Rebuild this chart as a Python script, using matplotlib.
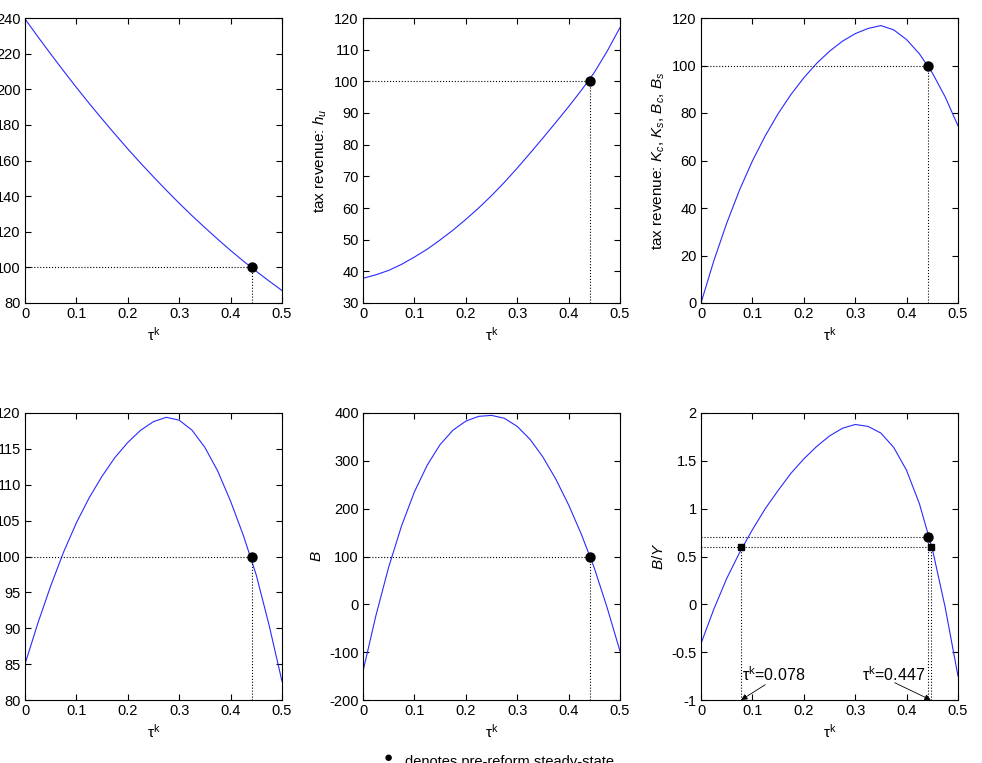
import matplotlib
matplotlib.use('Agg')
from matplotlib import pyplot as plt

plt.rcParams['font.family'] = ['Liberation Sans', 'DejaVu Sans']
plt.rcParams['mathtext.fontset'] = 'custom'
plt.rcParams['mathtext.rm'] = 'Liberation Sans'
plt.rcParams['mathtext.it'] = 'Liberation Sans:italic'
plt.rcParams['axes.unicode_minus'] = False

# capital tax rate grid
tau = [0.0, 0.025, 0.05, 0.075, 0.1, 0.125, 0.15, 0.175, 0.2, 0.225, 0.25,
       0.275, 0.3, 0.325, 0.35, 0.375, 0.4, 0.425, 0.45, 0.475, 0.5]

# panel values
top_left = [239.5, 229.5, 219.8, 210.3, 201.0, 192.0, 183.3, 174.8, 166.5, 158.5, 150.8,
            143.3, 136.0, 129.0, 122.3, 115.8, 109.5, 103.5, 97.8, 92.3, 87.0]
h_u = [37.8, 38.9, 40.3, 42.2, 44.5, 47.0, 49.9, 53.0, 56.4, 60.0, 63.9,
       68.1, 72.6, 77.3, 82.1, 87.0, 92.0, 97.2, 102.8, 109.5, 117.0]
k_b = [0.0, 17.8, 33.6, 47.6, 59.8, 70.4, 79.7, 87.8, 94.8, 100.9, 106.0,
       110.2, 113.4, 115.6, 116.8, 115.0, 110.9, 104.9, 96.9, 86.8, 74.6]
bottom_left = [85.0, 90.7, 95.9, 100.6, 104.7, 108.2, 111.2, 113.8, 115.9, 117.6, 118.8,
               119.4, 119.0, 117.6, 115.2, 111.9, 107.7, 102.9, 97.4, 90.4, 82.6]
B = [-140, -24, 78, 164, 235, 291, 334, 364, 383, 393, 395,
     389, 372, 345, 308, 262, 208, 146, 76, -7, -98]
B_Y = [-0.41, -0.05, 0.27, 0.54, 0.78, 1.00, 1.19, 1.37, 1.52, 1.65, 1.76,
       1.84, 1.88, 1.86, 1.79, 1.64, 1.40, 1.05, 0.58, -0.03, -0.75]

tau0 = 0.441          # pre-reform steady state
base = [100, 100, 100, 100, 100, 0.70]
by_target = 0.60
tau_lo, tau_hi = 0.078, 0.447

series = [top_left, h_u, k_b, bottom_left, B, B_Y]
ylims = [(80, 240), (30, 120), (0, 120), (80, 120), (-200, 400), (-1, 2)]
yticks = [range(80, 241, 20), range(30, 121, 10), range(0, 121, 20),
          range(80, 121, 5), range(-200, 401, 100), [-1, -0.5, 0, 0.5, 1, 1.5, 2]]
ylabels = ['', r'tax revenue: $h_u$',
           r'tax revenue: $K_c$, $K_s$, $B_c$, $B_s$', '', r'$B$', r'$B/Y$']
xlab = r'$\mathrm{\tau}^{\mathrm{k}}$'

fig = plt.figure(figsize=(9.82, 7.63), dpi=100)
W, H = 982.0, 763.0
lefts = [25, 363, 701]
rows = [(18, 303), (413, 700)]

for i in range(6):
    r, c = divmod(i, 3)
    top, bot = rows[r]
    ax = fig.add_axes([lefts[c] / W, 1 - bot / H, 257 / W, (bot - top) / H])
    ax.plot(tau, series[i], color='#2a2aff', lw=0.8)
    lo, hi = ylims[i]
    ax.set_xlim(0, 0.5)
    ax.set_ylim(lo, hi)
    ax.set_xticks([0, 0.1, 0.2, 0.3, 0.4, 0.5])
    ax.set_xticklabels(['0', '0.1', '0.2', '0.3', '0.4', '0.5'])
    ax.set_yticks(list(yticks[i]))
    if i == 5:
        ax.set_yticklabels(['-1', '-0.5', '0', '0.5', '1', '1.5', '2'])
    ax.tick_params(direction='in', top=True, right=True, length=4, width=0.8,
                   labelsize=10.5, pad=3)
    for s in ax.spines.values():
        s.set_linewidth(0.8)
    ax.set_xlabel(xlab, fontsize=11, labelpad=3)
    if ylabels[i]:
        ax.set_ylabel(ylabels[i], fontsize=11, labelpad=4)

    y0 = base[i]
    ax.plot([0, tau0], [y0, y0], 'k:', lw=0.8)
    ax.plot([tau0, tau0], [lo, y0], 'k:', lw=0.8)
    ax.plot(tau0, y0, 'ko', ms=6.5)

    if i == 5:
        ax.plot([0, tau_hi], [by_target, by_target], 'k:', lw=0.8)
        ax.plot([tau_lo, tau_lo], [lo, by_target], 'k:', lw=0.8)
        ax.plot([tau_hi, tau_hi], [lo, by_target], 'k:', lw=0.8)
        ax.plot([tau_lo, tau_hi], [by_target, by_target], 'ks', ms=5)
        ax.text(0.080, -0.74, xlab + '=%.3f' % tau_lo, fontsize=11.5, va='center', ha='left')
        ax.text(0.313, -0.74, xlab + '=%.3f' % tau_hi, fontsize=11.5, va='center', ha='left')
        arrow = dict(arrowstyle='-|>', color='k', lw=0.6, shrinkA=0, shrinkB=0,
                     mutation_scale=9)
        ax.annotate('', xy=(tau_lo, lo), xytext=(0.125, -0.84), arrowprops=arrow)
        ax.annotate('', xy=(tau_hi, lo), xytext=(0.377, -0.82), arrowprops=arrow)

# legend note at the bottom (cut by the lower edge, as in the original)
fig.text(388 / W, 1 - 758 / H, u'\u25cf', fontsize=11, ha='center', va='center')
fig.text(405 / W, 1 - 762 / H, 'denotes pre-reform steady-state', fontsize=10.5,
         ha='left', va='center')

fig.savefig('out.png', dpi=100)
